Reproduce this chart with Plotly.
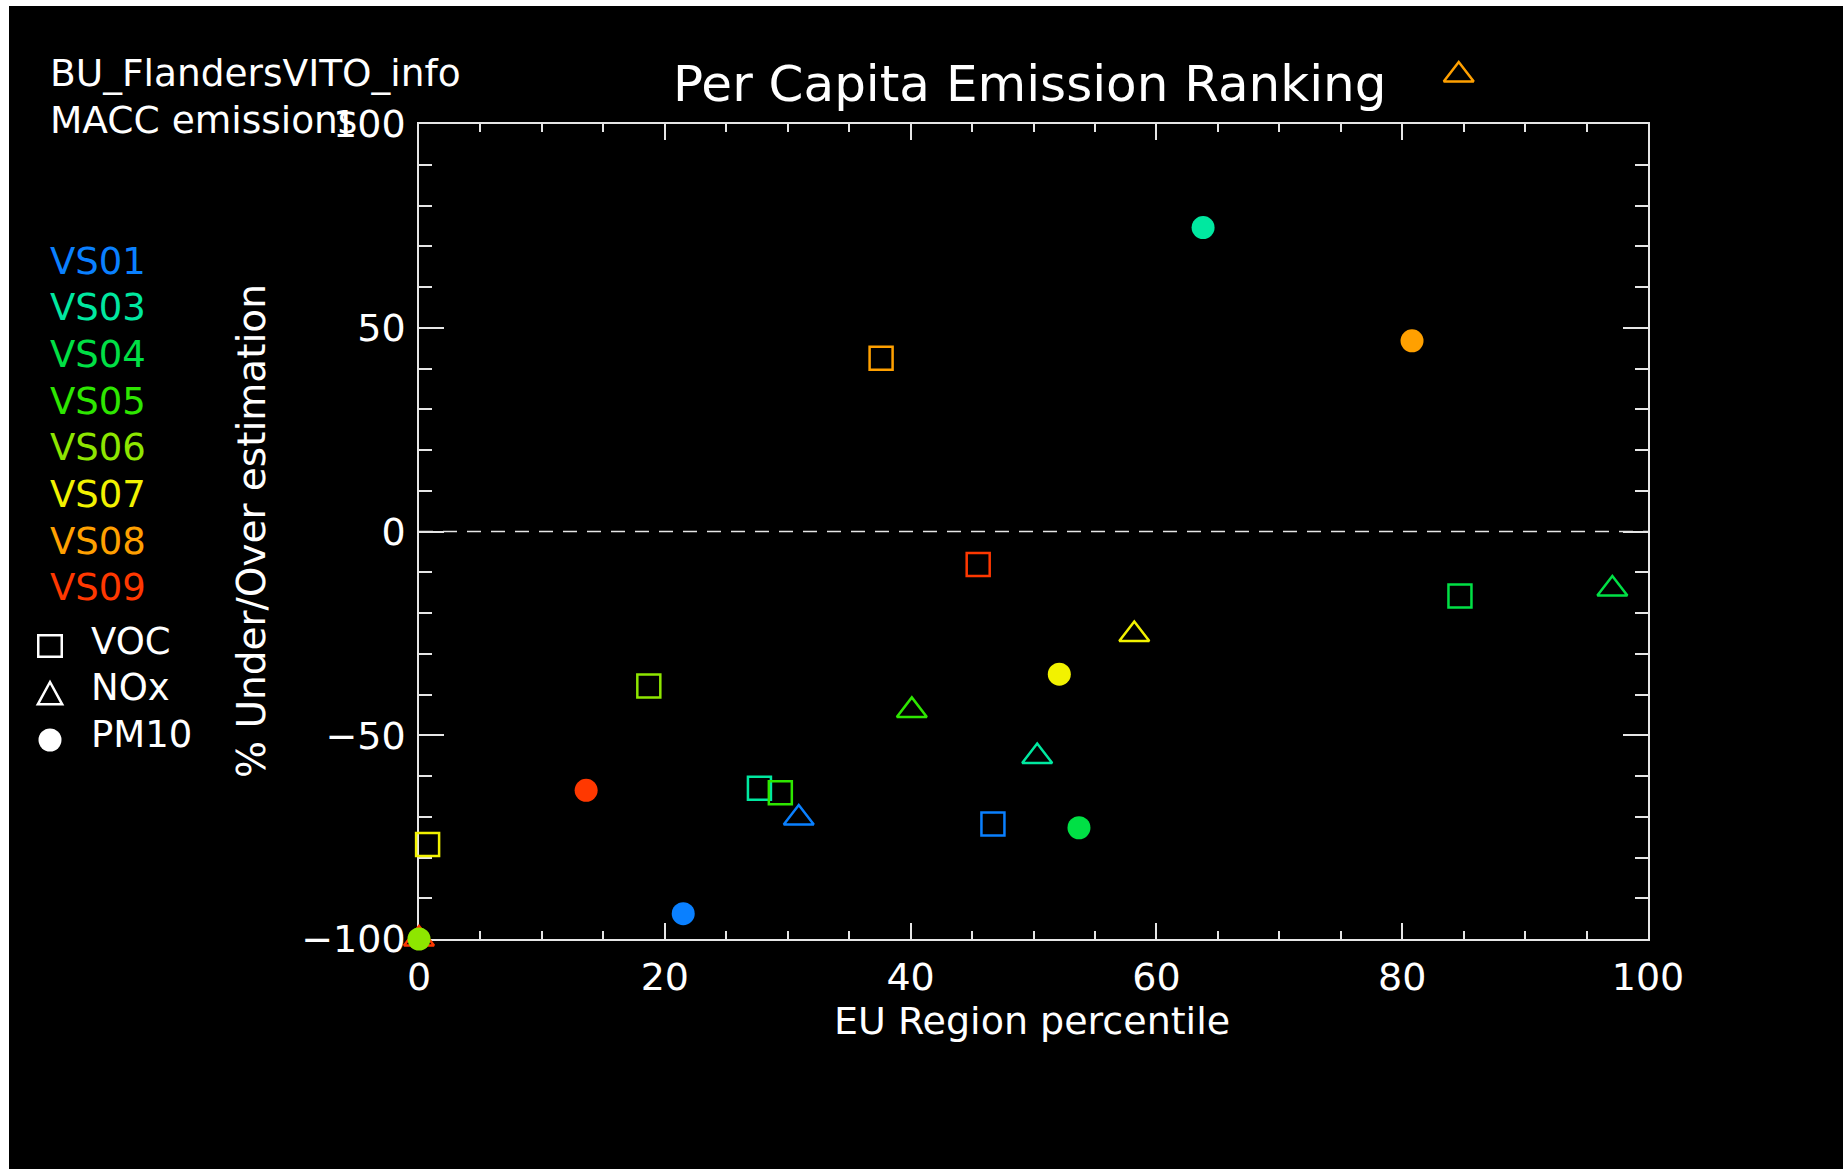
import plotly.graph_objects as go

# Stations and their plotting colours
stations = ["VS01", "VS03", "VS04", "VS05", "VS06", "VS07", "VS08", "VS09"]
station_colors = ["#0a80ff", "#00e8a0", "#00e045", "#2ee600", "#8ee600", "#f2f200", "#ffa000", "#ff3800"]

# EU region percentile (x) and % under/over estimation (y) per pollutant
voc_percentile = [46.7, 27.7, 84.7, 29.4, 18.7, 0.7, 37.6, 45.5]
voc_error = [-71.8, -63.0, -15.8, -64.1, -37.9, -76.8, 42.5, -8.1]
nox_percentile = [30.9, 50.3, 97.1, 40.1, None, 58.2, 84.6, 0.0]
nox_error = [-70.3, -55.2, -14.1, -43.9, None, -25.3, 112.0, -100.0]
pm10_percentile = [21.5, 63.8, 53.7, None, 0.0, 52.1, 80.8, 13.6]
pm10_error = [-93.8, 74.6, -72.7, None, -100.0, -35.0, 46.8, -63.5]

x_ticks = [0, 20, 40, 60, 80, 100]
y_ticks = [-100, -50, 0, 50, 100]
Y_MIN, Y_MAX = -100, 100

FONT = "DejaVu Sans"
AXIS_COLOR = "#e6e6e6"

# pixel frame: framed axes box (L, R, T, B) and the top of the drawing area (TOP),
# which leaves room for symbols that overshoot the upper axis limit
L, R, T, B = 419, 1648, 124, 939
TOP = 20
frame_frac = (B - T) / (B - TOP)
y_draw_max = Y_MIN + (Y_MAX - Y_MIN) / frame_frac


def fx(px):
    return (px - L) / (R - L)


def fy(py):
    return (B - py) / (B - TOP)


fig = go.Figure()

pollutants = [
    ("VOC", voc_percentile, voc_error, "square-open", 23),
    ("NOx", nox_percentile, nox_error, "triangle-up-open", 26),
    ("PM10", pm10_percentile, pm10_error, "circle", 23),
]
for name, xs, ys, symbol, size in pollutants:
    px_, py_, cols = [], [], []
    for x, y, c in zip(xs, ys, station_colors):
        if x is None or y is None:
            continue
        px_.append(x)
        py_.append(y)
        cols.append(c)
    fig.add_trace(go.Scatter(
        x=px_, y=py_, xaxis="x", yaxis="y2", mode="markers", name=name, cliponaxis=False,
        marker=dict(symbol=symbol, size=size, color=cols,
                    line=dict(width=2.5 if symbol.endswith("open") else 0, color=cols)),
        showlegend=False,
    ))

shapes = [
    # black canvas inside the thin white border
    dict(type="rect", xref="paper", yref="paper", layer="below",
         x0=fx(9), x1=fx(1843), y0=fy(1169), y1=fy(6),
         fillcolor="black", line=dict(width=0)),
    # zero reference line
    dict(type="line", xref="paper", yref="y", x0=0, x1=1, y0=0, y1=0,
         line=dict(color=AXIS_COLOR, width=1.5, dash="14px,10px")),
    # pollutant key symbols
    dict(type="rect", xref="paper", yref="paper",
         x0=fx(50 - 11.75), x1=fx(50 + 11.75), y0=fy(646 + 10.75), y1=fy(646 - 10.75),
         line=dict(color="white", width=2.5)),
    dict(type="path", xref="paper", yref="paper",
         path="M{},{} L{},{} L{},{} Z".format(fx(37.8), fy(704.3), fx(50), fy(682), fx(62.2), fy(704.3)),
         line=dict(color="white", width=2.5)),
    dict(type="circle", xref="paper", yref="paper",
         x0=fx(50 - 11.5), x1=fx(50 + 11.5), y0=fy(740 + 11.5), y1=fy(740 - 11.5),
         fillcolor="white", line=dict(width=0)),
]

annotations = [
    dict(text="Per Capita Emission Ranking", x=fx(1030), y=fy(84), xanchor="center", yanchor="middle",
         font=dict(size=50, color="white", family=FONT)),
    dict(text="BU_FlandersVITO_info", x=fx(48), y=fy(73), xanchor="left", yanchor="middle",
         font=dict(size=37.5, color="white", family=FONT)),
    dict(text="MACC emissions", x=fx(48), y=fy(120), xanchor="left", yanchor="middle",
         font=dict(size=37.5, color="white", family=FONT)),
    dict(text="EU Region percentile", x=fx(1032), y=fy(1021), xanchor="center", yanchor="middle",
         font=dict(size=38, color="white", family=FONT)),
    dict(text="% Under/Over estimation", x=fx(251), y=fy(531), xanchor="center", yanchor="middle",
         textangle=-90, font=dict(size=39, color="white", family=FONT)),
]
for i, (st, col) in enumerate(zip(stations, station_colors)):
    annotations.append(dict(text=st, x=fx(48), y=fy(261 + i * 46.7), xanchor="left", yanchor="middle",
                            font=dict(size=37, color=col, family=FONT)))
for i, name in enumerate(["VOC", "NOx", "PM10"]):
    annotations.append(dict(text=name, x=fx(89), y=fy(641 + i * 46.7), xanchor="left", yanchor="middle",
                            font=dict(size=37, color="white", family=FONT)))
for a in annotations:
    a.update(xref="paper", yref="paper", showarrow=False)

axis_common = dict(
    showline=True, linecolor=AXIS_COLOR, linewidth=1.5, mirror="ticks",
    ticks="inside", tickcolor=AXIS_COLOR, tickwidth=1.5,
    showgrid=False, zeroline=False, automargin=False,
    tickfont=dict(size=38, color="white", family=FONT),
)

fig.update_layout(
    template="none",
    width=1845, height=1169,
    margin=dict(l=L, r=1845 - R, t=TOP, b=1169 - B, pad=0, autoexpand=False),
    paper_bgcolor="white", plot_bgcolor="rgba(0,0,0,0)",
    xaxis=dict(range=[0, 100], tickvals=x_ticks, ticklen=16, ticklabelstandoff=4, anchor="y",
               minor=dict(dtick=5, tick0=0, ticks="inside", ticklen=8, tickcolor=AXIS_COLOR,
                          tickwidth=1.5, showgrid=False),
               **axis_common),
    yaxis=dict(range=[Y_MIN, Y_MAX], domain=[0, frame_frac], tickvals=y_ticks, ticklen=25,
               ticklabelstandoff=4, anchor="x",
               minor=dict(dtick=10, tick0=0, ticks="inside", ticklen=13, tickcolor=AXIS_COLOR,
                          tickwidth=1.5, showgrid=False),
               **axis_common),
    # same scale as the framed axis, extended upward over the title band
    yaxis2=dict(range=[Y_MIN, y_draw_max], domain=[0, 1], anchor="x", visible=False,
                showgrid=False, zeroline=False, automargin=False),
    shapes=shapes,
    annotations=annotations,
    font=dict(family=FONT, color="white"),
    showlegend=False,
)

fig.write_html("out.html")
